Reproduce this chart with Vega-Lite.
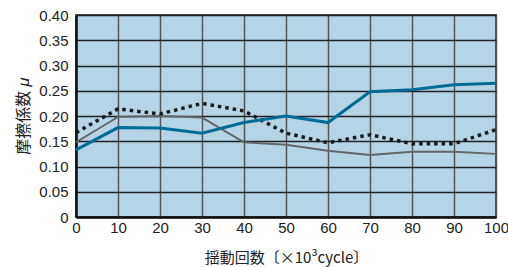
{
  "$schema": "https://vega.github.io/schema/vega-lite/v6.json",
  "width": 420,
  "height": 202,
  "autosize": {"type": "none"},
  "padding": {"left": 76, "top": 15, "right": 12, "bottom": 50},
  "background": "white",
  "config": {
    "view": {"fill": "#b5d5e7", "stroke": "#555555", "strokeWidth": 2},
    "font": "Liberation Sans"
  },
  "data": {
    "values": [
      {"x": 0, "s": "A", "v": 0.133}, {"x": 10, "s": "A", "v": 0.177}, {"x": 20, "s": "A", "v": 0.176}, {"x": 30, "s": "A", "v": 0.166}, {"x": 40, "s": "A", "v": 0.187}, {"x": 50, "s": "A", "v": 0.200}, {"x": 60, "s": "A", "v": 0.187}, {"x": 70, "s": "A", "v": 0.248}, {"x": 80, "s": "A", "v": 0.252}, {"x": 90, "s": "A", "v": 0.262}, {"x": 100, "s": "A", "v": 0.265},
      {"x": 0, "s": "B", "v": 0.167}, {"x": 10, "s": "B", "v": 0.214}, {"x": 20, "s": "B", "v": 0.204}, {"x": 30, "s": "B", "v": 0.225}, {"x": 40, "s": "B", "v": 0.210}, {"x": 50, "s": "B", "v": 0.166}, {"x": 60, "s": "B", "v": 0.147}, {"x": 70, "s": "B", "v": 0.163}, {"x": 80, "s": "B", "v": 0.145}, {"x": 90, "s": "B", "v": 0.145}, {"x": 100, "s": "B", "v": 0.173},
      {"x": 0, "s": "C", "v": 0.148}, {"x": 10, "s": "C", "v": 0.198}, {"x": 20, "s": "C", "v": 0.200}, {"x": 30, "s": "C", "v": 0.197}, {"x": 40, "s": "C", "v": 0.148}, {"x": 50, "s": "C", "v": 0.143}, {"x": 60, "s": "C", "v": 0.131}, {"x": 70, "s": "C", "v": 0.123}, {"x": 80, "s": "C", "v": 0.129}, {"x": 90, "s": "C", "v": 0.129}, {"x": 100, "s": "C", "v": 0.125}
    ]
  },
  "encoding": {
    "x": {
      "field": "x", "type": "quantitative",
      "scale": {"domain": [0, 100], "nice": false},
      "axis": {
        "values": [0, 10, 20, 30, 40, 50, 60, 70, 80, 90, 100],
        "title": "揺動回数〔×10³cycle〕",
        "titleFont": "Noto Sans CJK JP", "titleFontSize": 15, "titleFontWeight": "normal", "titleColor": "#222222", "titlePadding": 15,
        "labelFontSize": 15, "labelColor": "#222222", "labelPadding": 3, "labelFlush": false,
        "ticks": false, "domainColor": "#111111", "domainWidth": 2.5,
        "grid": true, "gridColor": "#555555", "gridWidth": 1.5
      }
    },
    "y": {
      "field": "v", "type": "quantitative",
      "scale": {"domain": [0, 0.4], "nice": false},
      "axis": {
        "values": [0, 0.05, 0.1, 0.15, 0.2, 0.25, 0.3, 0.35, 0.4],
        "labelExpr": "datum.value == 0 ? '0' : format(datum.value, '.2f')",
        "title": "摩擦係数 𝜇",
        "titleFont": "Noto Sans CJK JP", "titleFontSize": 16, "titleFontWeight": "normal", "titleColor": "#222222", "titlePadding": 7,
        "labelFontSize": 15, "labelColor": "#222222", "labelPadding": 8,
        "ticks": false, "domainColor": "#111111", "domainWidth": 2.5,
        "grid": true, "gridColor": "#222222", "gridWidth": 1.3
      }
    }
  },
  "layer": [
    {
      "transform": [{"filter": "datum.s == 'C'"}],
      "mark": {"type": "line", "color": "#666666", "strokeWidth": 2}
    },
    {
      "transform": [{"filter": "datum.s == 'B'"}],
      "mark": {"type": "line", "color": "#1a1a1a", "strokeWidth": 3.5, "strokeDash": [3.5, 4], "strokeCap": "butt"}
    },
    {
      "transform": [{"filter": "datum.s == 'A'"}],
      "mark": {"type": "line", "color": "#006c95", "strokeWidth": 3}
    }
  ]
}
